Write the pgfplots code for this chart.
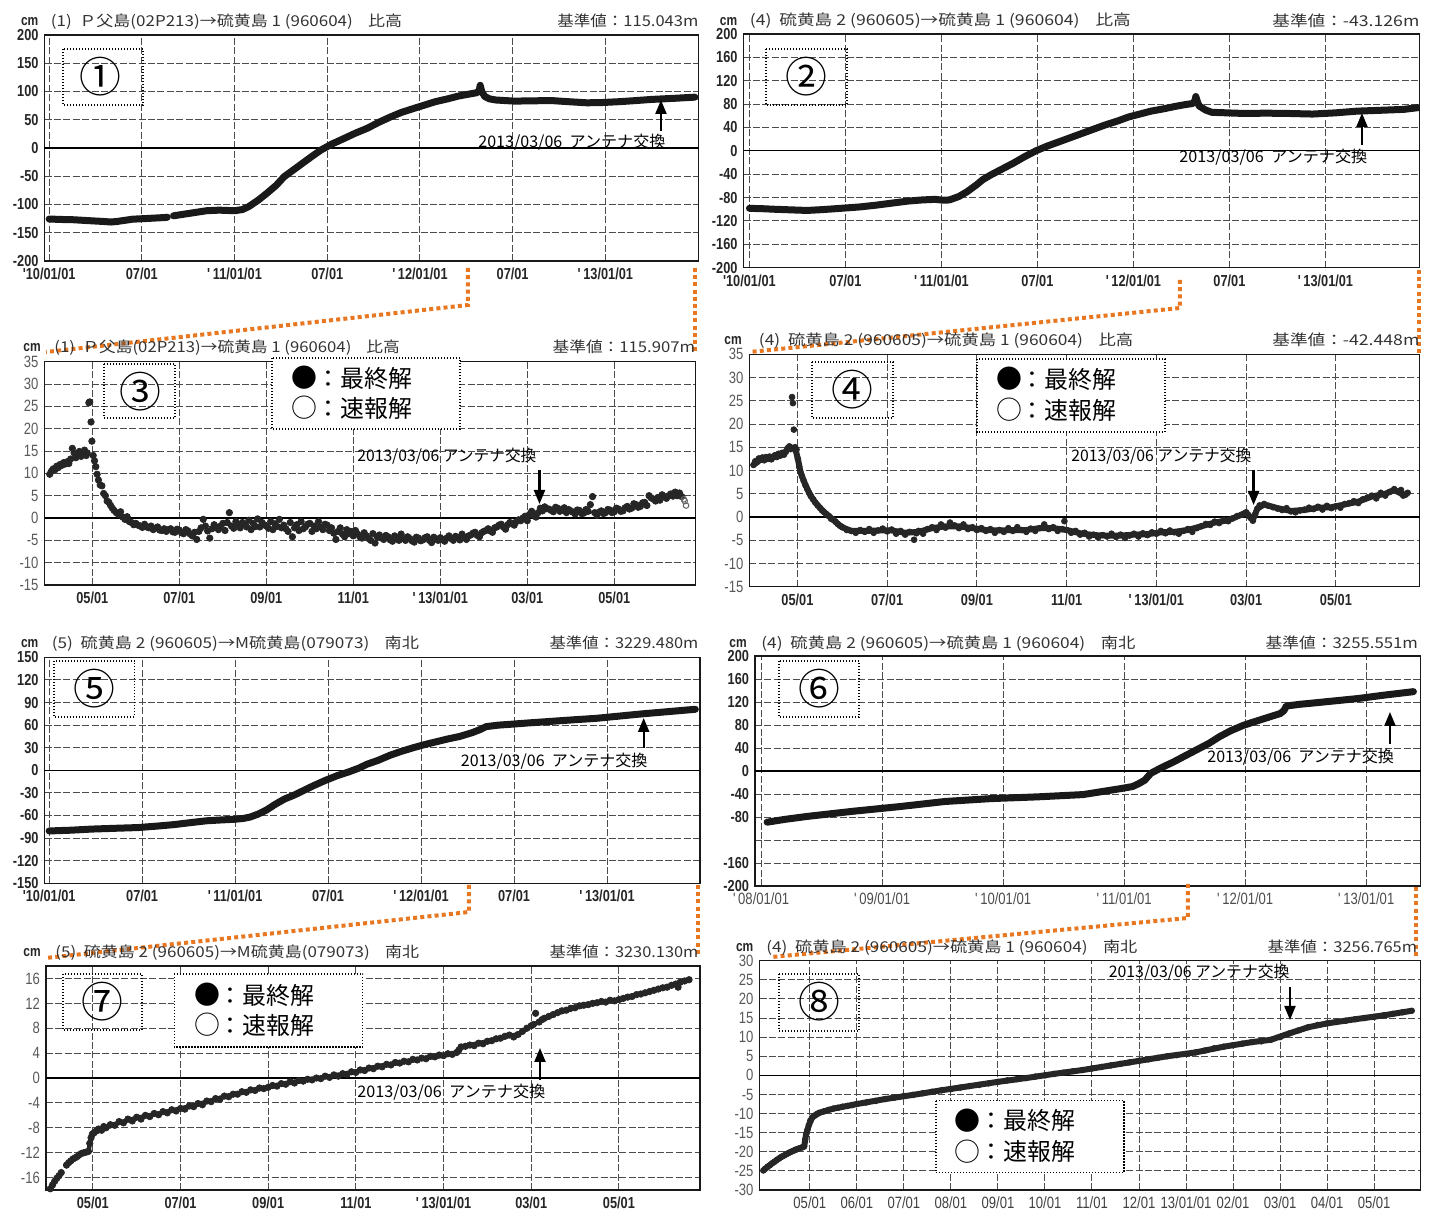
\documentclass[border=0pt]{standalone}
\usepackage{fontspec}
\setmainfont{Liberation Sans}
\newfontfamily\jp{Noto Sans CJK JP}
\newfontfamily\tickfam[FakeStretch=0.8]{Liberation Sans}
\usepackage{graphicx}
\usepackage{pgfplots}
\pgfplotsset{compat=1.18}
\usetikzlibrary{arrows.meta}
\definecolor{org}{RGB}{232,119,34}
\newcommand\tickf{\tickfam\bfseries\fontsize{8}{8}\selectfont}
\newcommand\tickg{\tickfam\fontsize{8.2}{8}\selectfont}
\newcommand\ttf{\jp\fontsize{7.5}{8}\selectfont}
\newcommand\Lft[4]{\node[anchor=base west,inner sep=0,text=black!80] at (#1,#2) {\resizebox{#3bp}{\height}{\ttf #4}};}
\newcommand\Rgt[4]{\node[anchor=base east,inner sep=0,text=black!80] at (#1,#2) {\resizebox{#3bp}{\height}{\ttf #4}};}
\newcommand\Cm[2]{\node[anchor=base west,inner sep=0,text=black!85] at (#1,#2) {\tickfam\bfseries\fontsize{7.5}{8}\selectfont cm};}
\newcommand\Note[4]{\node[anchor=base west,inner sep=0] at (#1,#2) {\resizebox{#3bp}{\height}{\jp\fontsize{8}{9}\selectfont #4}};}
\newcommand\Num[7]{\draw[line width=0.7bp,dash pattern=on 0.6bp off 0.9bp] (#1,#2) rectangle (#3,#4);
  \node[inner sep=0] at (#5,#6) {\jp\fontsize{21}{21}\selectfont #7};}
\newcommand\Leg[8]{\draw[line width=0.7bp,dash pattern=on 0.6bp off 0.9bp,fill=white] (#1,#2) rectangle (#3,#4);
  \node[inner sep=0] at (#5,#6) {\jp\fontsize{13}{13}\selectfont ●};
  \node[inner sep=0] at (#5,#7) {\jp\fontsize{13}{13}\selectfont ○};
  \node[anchor=west,inner sep=0] at (#8,#6) {\jp\fontsize{12}{12}\selectfont ：最終解};
  \node[anchor=west,inner sep=0] at (#8,#7) {\jp\fontsize{12}{12}\selectfont ：速報解};}
\pgfplotsset{
  base/.style={scale only axis, anchor=south west,
    axis line style={black!90, line width=0.6bp},
    grid=major, major grid style={black!70, line width=0.5bp, dash pattern=on 3.5bp off 1.2bp},
    major tick length=0pt,
    yticklabel style={font=\tickf, text=black!85, xshift=0.5bp},
    xticklabel style={font=\tickf, text=black!85},
    extra y ticks={0}, extra y tick labels={},
    extra y tick style={grid=major, major grid style={solid, black, line width=0.6bp}},
  },
  zoomed/.style={base,
    yticklabel style={font=\tickg, text=black!65},
    xticklabel style={font=\tickf, text=black!85},
    xtick={4,6,8,10,12,14,16},
    xticklabels={05/01,07/01,09/01,11/01,'\,13/01/01,03/01,05/01}},
  longx/.style={base,
    xtick={0,6,12,18,24,30,36},
    xticklabels={'10/01/01,07/01,'\,11/01/01,07/01,'\,12/01/01,07/01,'\,13/01/01}},
  thickline/.style={black!90, line width=3.5bp, line join=round, line cap=round},
  dots/.style={only marks, mark=*, mark size=1.45bp, mark options={fill=black!85, draw=black!85}},
}
\begin{document}
\begin{tikzpicture}
\path[use as bounding box] (0,0) rectangle (717.5bp,-604.5bp);
% ---------- Panel 1
\begin{axis}[longx, at={(22.25bp,-130.5bp)}, width=327.15bp, height=113bp,
  xmin=-0.3, xmax=42.05, ymin=-200, ymax=200,
  ytick={-200,-150,-100,-50,0,50,100,150,200},
  yticklabels={-200,-150,-100,-50,0,50,100,150,200}]
\addplot[thickline] coordinates {(0,-125.7) (0.8,-126.5) (1.6,-127) (2.5,-128.5) (3.5,-130) (4.0,-131) (4.4,-130) (5.4,-126) (6.5,-124.5) (7.5,-123) (7.65,-122.5)};
\addplot[thickline] coordinates {(8.05,-120) (9.0,-116) (10.2,-111) (11.0,-110) (12.0,-111) (12.5,-109) (12.9,-104) (13.5,-93) (14.1,-80) (14.7,-66) (15.2,-51) (15.8,-39) (16.4,-27) (17.0,-15) (17.6,-3.5) (18.3,7) (19.1,17) (19.8,26) (20.6,35) (21.3,45) (22.1,55) (22.8,63) (23.6,70) (24.3,76) (25.0,82) (25.8,87) (26.5,92) (27.1,95) (27.7,98) (27.85,103) (27.9,111) (28.0,100) (28.2,91) (28.5,87) (28.9,85) (29.5,84) (30.1,83) (31.3,83.5) (32.5,84) (33.6,82) (34.8,80) (35.8,80.5) (36.9,82) (38.0,84) (39.0,86) (40.5,88) (41.8,90)};
\end{axis}
% ---------- Panel 2
\begin{axis}[longx, at={(371.75bp,-133.85bp)}, width=338.15bp, height=116.85bp,
  xmin=-0.37, xmax=41.9, ymin=-200, ymax=200,
  ytick={-200,-160,-120,-80,-40,0,40,80,120,160,200},
  yticklabels={-200,-160,-120,-80,-40,0,40,80,120,160,200}]
\addplot[thickline] coordinates {(0,-98.4) (0.8,-99) (1.6,-100) (2.6,-101) (3.6,-102) (4.6,-100.5) (5.9,-98) (6.9,-96) (7.9,-93) (8.9,-89.5) (9.9,-86) (10.8,-84) (11.6,-83) (12.1,-84.5) (12.5,-84) (13.1,-78) (13.6,-70) (14.2,-58) (14.6,-49) (15.1,-41) (15.8,-31) (16.5,-21) (17.2,-10) (17.9,0) (18.6,8) (19.4,16) (20.1,23) (20.8,30) (21.5,37) (22.2,44) (23.0,51) (23.7,58) (24.4,63) (25.1,68) (25.9,72) (26.6,76) (27.2,79) (27.7,81) (27.85,86) (27.9,93) (28.0,84) (28.1,77) (28.5,70) (28.9,66) (29.9,65) (30.9,64) (32.3,64.5) (33.7,64) (35.2,63) (36.6,65) (38.0,68) (39.5,69.5) (40.9,71) (41.8,74)};
\end{axis}
% ---------- Panel 3
\begin{axis}[zoomed, at={(22.25bp,-292.5bp)}, width=325.55bp, height=111.65bp,
  xmin=2.9, xmax=17.87, ymin=-15, ymax=35,
  ytick={-15,-10,-5,0,5,10,15,20,25,30,35},
  yticklabels={-15,-10,-5,0,5,10,15,20,25,30,35}]
\addplot[dots, mark size=1.6bp] coordinates {(3.02,9.8) (3.06,10.5) (3.10,11.0) (3.14,10.8) (3.18,11.6) (3.22,11.3) (3.26,12.0) (3.30,11.8) (3.34,12.4) (3.38,12.1) (3.42,12.6) (3.46,12.2) (3.50,13.2) (3.54,15.6) (3.58,14.6) (3.62,13.5) (3.66,14.2) (3.70,14.9) (3.74,13.8) (3.78,14.5) (3.82,15.2) (3.86,14.0) (3.88,14.6) (3.92,25.8) (3.94,26.0) (3.97,21.5) (3.99,17.2) (4.02,14.0) (4.05,12.8) (4.08,11.5) (4.11,9.8) (4.14,8.5) (4.18,7.4) (4.22,7.2) (4.26,5.5) (4.30,5.0) (4.34,3.8) (4.38,3.5) (4.42,2.8) (4.46,2.2) (4.50,1.7) (4.55,1.2) (4.60,0.8) (4.65,1.4) (4.70,0.2) (4.75,-0.3) (4.80,0.3) (4.85,-0.8) (4.90,-1.0) (4.95,-1.5) (5.00,-1.2) (5.05,-1.6) (5.1,-1.8) (5.15,-2.1) (5.2,-1.4) (5.25,-2.0) (5.3,-2.2) (5.35,-1.8) (5.4,-2.6) (5.45,-2.3) (5.5,-2.0) (5.55,-2.7) (5.6,-2.8) (5.65,-2.4) (5.7,-3.0) (5.75,-2.6) (5.8,-2.4) (5.85,-3.1) (5.9,-3.2) (5.95,-2.5) (6.0,-2.7) (6.05,-3.3) (6.1,-3.5) (6.15,-2.6) (6.2,-2.9) (6.25,-3.6) (6.3,-4.0) (6.35,-3.2) (6.4,-4.8) (6.45,-3.0) (6.5,-2.2) (6.55,-0.3) (6.6,-1.8) (6.65,-2.9) (6.7,-4.5) (6.75,-2.4) (6.8,-1.5) (6.85,-2.0) (6.9,-2.6) (6.95,-1.8) (7.0,-1.2) (7.05,-2.8) (7.1,-1.0) (7.15,1.2) (7.2,-1.8) (7.25,-2.3) (7.3,-0.8) (7.35,-1.6) (7.4,-2.2) (7.45,-1.0) (7.5,-1.4) (7.55,-2.0) (7.6,-0.5) (7.65,-2.6) (7.7,-1.2) (7.75,-1.9) (7.8,-0.2) (7.85,-2.0) (7.9,-1.0) (7.95,-1.5) (8.0,-1.8) (8.05,-2.3) (8.1,-0.8) (8.15,-2.6) (8.2,-1.3) (8.25,-1.9) (8.3,-0.3) (8.35,-2.2) (8.4,-1.6) (8.45,-2.4) (8.5,-3.0) (8.55,-1.0) (8.6,-4.2) (8.65,-2.2) (8.7,-1.5) (8.75,-2.8) (8.8,-0.8) (8.85,-2.4) (8.9,-2.0) (8.95,-1.4) (9.0,-1.2) (9.05,-3.0) (9.1,-1.8) (9.15,-2.4) (9.2,-0.8) (9.25,-2.0) (9.3,-2.6) (9.35,-1.4) (9.4,-1.6) (9.45,-2.8) (9.5,-2.2) (9.55,-3.4) (9.6,-4.8) (9.65,-3.0) (9.7,-2.2) (9.75,-3.6) (9.8,-4.2) (9.85,-2.6) (9.9,-3.5) (9.95,-3.0) (10.0,-4.0) (10.05,-2.8) (10.1,-3.6) (10.15,-4.2) (10.2,-4.5) (10.25,-3.3) (10.3,-4.0) (10.35,-4.6) (10.4,-5.0) (10.45,-3.5) (10.5,-5.6) (10.55,-4.2) (10.6,-3.8) (10.65,-4.5) (10.7,-4.8) (10.75,-3.9) (10.8,-4.2) (10.85,-4.9) (10.9,-5.2) (10.95,-4.0) (11.0,-4.4) (11.05,-5.0) (11.1,-3.6) (11.15,-4.6) (11.2,-5.0) (11.25,-4.2) (11.3,-4.6) (11.35,-5.1) (11.4,-5.4) (11.45,-4.3) (11.5,-4.5) (11.55,-5.1) (11.6,-4.9) (11.65,-4.4) (11.7,-4.2) (11.75,-5.0) (11.8,-5.5) (11.85,-4.3) (11.9,-4.7) (11.95,-5.0) (12.0,-4.4) (12.05,-4.8) (12.1,-5.2) (12.15,-4.5) (12.2,-4.0) (12.25,-4.6) (12.3,-5.0) (12.35,-4.1) (12.4,-4.4) (12.45,-4.9) (12.5,-3.6) (12.55,-4.3) (12.6,-4.8) (12.65,-4.0) (12.7,-3.8) (12.75,-3.4) (12.8,-3.2) (12.85,-3.9) (12.9,-4.2) (12.95,-3.3) (13.0,-3.0) (13.05,-2.8) (13.1,-2.4) (13.15,-2.9) (13.2,-3.2) (13.25,-2.2) (13.3,-2.0) (13.35,-1.6) (13.4,-1.4) (13.45,-2.0) (13.5,-2.5) (13.55,-1.5) (13.6,-1.0) (13.65,-1.2) (13.7,-1.6) (13.75,-0.8) (13.8,-0.4) (13.85,-0.6) (13.9,0.0) (13.95,0.4) (14.0,-0.6) (14.05,0.8) (14.1,1.5) (14.15,0.6) (14.2,0.2) (14.25,1.2) (14.3,2.2) (14.35,1.6) (14.4,2.5) (14.45,2.1) (14.5,2.0) (14.55,1.7) (14.6,1.4) (14.65,2.4) (14.7,2.2) (14.75,1.5) (14.8,1.8) (14.85,2.3) (14.9,1.2) (14.95,1.9) (15.0,1.6) (15.05,1.3) (15.1,0.9) (15.15,1.8) (15.2,1.7) (15.25,1.0) (15.3,1.1) (15.35,1.9) (15.4,1.5) (15.45,3.0) (15.5,4.8) (15.55,1.2) (15.6,0.6) (15.65,1.3) (15.7,1.6) (15.75,1.0) (15.8,1.2) (15.85,1.9) (15.9,1.8) (15.95,1.2) (16.0,1.4) (16.05,2.2) (16.1,2.0) (16.15,1.5) (16.2,1.6) (16.25,2.3) (16.3,2.6) (16.35,2.0) (16.4,2.2) (16.45,3.2) (16.5,3.0) (16.55,2.4) (16.6,2.6) (16.65,3.4) (16.7,3.5) (16.75,2.8) (16.8,5.0) (16.85,4.5) (16.9,4.2) (16.95,3.8) (17.0,4.6) (17.05,4.0) (17.1,5.2) (17.15,4.8) (17.2,4.4) (17.25,5.0) (17.3,5.4) (17.35,4.9) (17.4,5.8) (17.45,5.0) (17.5,5.6) (17.55,4.8)};
\addplot[only marks, mark=o, mark size=1.4bp, mark options={draw=black!60, line width=0.5bp}] coordinates {(17.6,4.2) (17.62,3.8) (17.65,2.8)};
\end{axis}
% ---------- Panel 4
\begin{axis}[zoomed, at={(374.7bp,-293.35bp)}, width=335.2bp, height=116.2bp,
  xmin=2.93, xmax=17.87, ymin=-15, ymax=35,
  ytick={-15,-10,-5,0,5,10,15,20,25,30,35},
  yticklabels={-15,-10,-5,0,5,10,15,20,25,30,35}]
\addplot[black!85, line width=3bp, line join=round] coordinates {(3.02,11.2) (3.10,11.8) (3.20,12.5) (3.30,12.7) (3.40,12.7) (3.50,13.1) (3.60,13.4) (3.70,13.6) (3.78,14.6) (3.84,15.0) (3.95,14.8) (4.01,12.5) (4.07,9.6) (4.14,7.8) (4.22,6.0) (4.30,4.5) (4.40,3.1) (4.50,2.0) (4.60,1.0) (4.70,0.2) (4.80,-0.6) (4.90,-1.5) (5.0,-2.2) (5.2,-3.0) (5.5,-3.0) (5.8,-2.9) (6.1,-2.9) (6.4,-3.4) (6.7,-3.2) (7.0,-2.4) (7.3,-2.0) (7.6,-2.0) (7.9,-2.4) (8.2,-2.8) (8.5,-2.9) (8.8,-2.8) (9.1,-2.8) (9.4,-2.4) (9.7,-2.4) (10.0,-2.8) (10.3,-3.5) (10.6,-3.9) (10.9,-4.0) (11.2,-4.0) (11.5,-3.8) (11.8,-3.7) (12.1,-3.3) (12.4,-3.2) (12.7,-2.8) (13.0,-2.0) (13.3,-1.2) (13.6,-0.7) (13.9,0.5) (14.0,1.0) (14.1,-0.2) (14.15,-0.6) (14.25,1.8) (14.4,2.7) (14.7,1.9) (15.0,1.3) (15.3,1.5) (15.6,2.0) (15.9,2.1) (16.2,2.7) (16.5,3.3) (16.8,4.4) (17.1,5.0) (17.3,5.8) (17.5,4.8) (17.6,5.0)};
\addplot[dots] coordinates {(3.02,11.2) (3.06,12.0) (3.10,11.8) (3.14,12.6) (3.18,12.3) (3.22,12.8) (3.26,12.2) (3.30,12.9) (3.34,12.5) (3.38,13.0) (3.42,12.4) (3.46,12.8) (3.50,13.3) (3.54,12.9) (3.58,13.6) (3.62,13.2) (3.66,13.8) (3.70,13.4) (3.74,14.0) (3.78,14.8) (3.82,15.2) (3.85,14.6) (3.88,25.8) (3.90,24.5) (3.92,18.8) (3.95,15.0) (3.98,14.5) (4.01,12.5) (4.04,10.8) (4.07,9.6) (4.10,8.8) (4.14,7.8) (4.18,6.8) (4.22,6.0) (4.26,5.2) (4.30,4.5) (4.35,3.8) (4.40,3.1) (4.45,2.5) (4.50,2.0) (4.55,1.4) (4.60,1.0) (4.65,0.6) (4.70,0.2) (4.75,-0.4) (4.80,-0.6) (4.85,-1.0) (4.90,-1.5) (4.95,-1.9) (5.0,-2.2) (5.1,-2.8) (5.2,-3.0) (5.3,-3.4) (5.4,-2.8) (5.5,-3.2) (5.6,-2.6) (5.7,-3.4) (5.8,-2.9) (5.9,-2.5) (6.0,-3.1) (6.1,-2.7) (6.2,-3.6) (6.3,-3.0) (6.4,-3.8) (6.5,-3.2) (6.6,-4.9) (6.65,-3.5) (6.7,-3.0) (6.8,-3.6) (6.9,-2.6) (7.0,-2.2) (7.1,-2.8) (7.2,-1.6) (7.3,-2.3) (7.4,-1.2) (7.5,-1.8) (7.6,-2.4) (7.7,-1.6) (7.8,-2.6) (7.9,-2.2) (8.0,-2.8) (8.1,-2.4) (8.2,-3.0) (8.3,-2.6) (8.4,-3.4) (8.5,-2.8) (8.6,-3.2) (8.7,-2.4) (8.8,-3.0) (8.9,-2.2) (9.0,-2.8) (9.1,-3.2) (9.2,-2.5) (9.3,-3.0) (9.4,-2.4) (9.5,-1.6) (9.6,-2.6) (9.7,-2.2) (9.8,-3.0) (9.9,-2.6) (9.95,-0.9) (10.0,-2.8) (10.1,-3.4) (10.2,-3.0) (10.3,-3.8) (10.4,-3.4) (10.5,-4.2) (10.6,-3.8) (10.7,-4.4) (10.8,-3.9) (10.9,-4.2) (11.0,-3.6) (11.1,-4.3) (11.2,-3.8) (11.3,-4.5) (11.4,-4.0) (11.5,-3.6) (11.6,-4.2) (11.7,-3.5) (11.8,-3.9) (11.9,-3.3) (12.0,-3.6) (12.1,-3.0) (12.2,-3.5) (12.3,-2.9) (12.4,-3.3) (12.5,-3.6) (12.6,-3.0) (12.7,-2.6) (12.8,-3.2) (12.9,-2.4) (13.0,-2.0) (13.1,-1.5) (13.2,-1.7) (13.3,-1.0) (13.4,-1.3) (13.5,-0.6) (13.6,-0.9) (13.7,-0.3) (13.8,0.2) (13.9,0.5) (14.0,1.0) (14.05,0.4) (14.1,-0.2) (14.15,-0.8) (14.2,0.5) (14.25,1.8) (14.3,2.5) (14.4,2.8) (14.5,2.4) (14.6,2.1) (14.7,1.8) (14.8,1.5) (14.9,1.9) (15.0,1.2) (15.1,1.0) (15.2,1.4) (15.3,1.6) (15.4,2.0) (15.5,1.7) (15.6,2.2) (15.7,1.6) (15.8,2.4) (15.9,1.9) (16.0,2.3) (16.1,2.0) (16.2,2.8) (16.3,3.0) (16.4,3.4) (16.5,3.0) (16.6,3.8) (16.7,4.2) (16.8,4.6) (16.9,4.0) (17.0,5.2) (17.1,4.6) (17.2,5.4) (17.3,6.0) (17.4,5.5) (17.45,5.8) (17.5,4.6) (17.55,4.8) (17.6,5.2)};
\end{axis}
% ---------- Panel 5
\begin{axis}[longx, at={(22.25bp,-441.65bp)}, width=327.75bp, height=113bp,
  xmin=-0.3, xmax=42.0, ymin=-150, ymax=150,
  ytick={-150,-120,-90,-60,-30,0,30,60,90,120,150},
  yticklabels={-150,-120,-90,-60,-30,0,30,60,90,120,150}]
\addplot[thickline] coordinates {(0,-80.5) (1.4,-79.5) (2.76,-78) (4.2,-77) (5.72,-76) (7.0,-74) (8.09,-72) (9.1,-69.5) (10.16,-67) (11.0,-66) (11.94,-65) (12.5,-64) (12.98,-62) (13.5,-58) (14.0,-53) (14.6,-45) (15.2,-38) (15.8,-33) (16.4,-27) (17.1,-20) (17.87,-13) (18.6,-7) (19.35,-2) (20.0,3) (20.5,8) (21.2,13) (22.0,20) (22.7,25) (23.5,30) (24.2,34) (25.0,38) (25.7,41.5) (26.5,45) (27.3,50) (27.8,54) (28.2,58) (29.0,60) (29.7,61) (31.0,63) (32.4,65) (33.8,67) (35.3,69) (36.8,72) (38.3,75) (40.0,78) (41.7,81)};
\end{axis}
% ---------- Panel 6
\begin{axis}[base, at={(377.5bp,-443bp)}, width=332.85bp, height=115bp,
  xmin=-0.05, xmax=5.45, ymin=-200, ymax=200,
  xtick={0,1,2,3,4,5},
  xticklabels={'\,08/01/01,'\,09/01/01,'\,10/01/01,'\,11/01/01,'\,12/01/01,'\,13/01/01},
  xticklabel style={font=\tickg, text=black!70},
  ytick={-200,-160,-120,-80,-40,0,40,80,120,160,200},
  yticklabels={-200,-160,,-80,-40,0,40,80,120,160,200}]
\addplot[thickline] coordinates {(0.05,-89) (0.2,-84) (0.38,-79) (0.57,-74.5) (0.76,-70) (0.95,-66) (1.14,-62) (1.33,-57.5) (1.52,-53) (1.71,-50.5) (1.9,-48) (2.09,-46.5) (2.28,-45) (2.47,-43) (2.66,-41) (2.81,-36) (2.96,-31) (3.07,-27) (3.12,-22) (3.17,-16) (3.22,-4) (3.31,6) (3.41,16) (3.5,26) (3.6,37) (3.7,48) (3.79,60) (3.88,70) (3.98,79) (4.08,86) (4.17,92) (4.29,100) (4.32,105) (4.34,113) (4.45,116) (4.55,118) (4.74,122) (4.93,126) (5.15,132) (5.39,138)};
\end{axis}
% ---------- Panel 7
\begin{axis}[zoomed, at={(22.95bp,-595bp)}, width=327.05bp, height=112bp,
  xmin=2.93, xmax=17.85, ymin=-18, ymax=18,
  ytick={-16,-12,-8,-4,0,4,8,12,16},
  yticklabels={-16,-12,-8,-4,0,4,8,12,16}]
\addplot[black!85, line width=2.2bp] coordinates {(3.03,-17.8) (3.13,-16.6) (3.28,-15.2)};
\addplot[black!85, line width=2.2bp] coordinates {(3.40,-14.0) (3.60,-12.8) (3.80,-12.0) (3.90,-11.8) (3.96,-9.6) (4.03,-8.8) (4.3,-8.0) (4.6,-7.2) (5.0,-6.4) (5.5,-5.7) (6.0,-4.9) (6.5,-4.0) (7.0,-3.0) (7.5,-2.2) (8.0,-1.5) (8.5,-0.7) (9.0,-0.2) (9.5,0.4) (10.0,1.0) (10.5,1.9) (11.0,2.5) (11.5,3.1) (12.0,3.6) (12.3,4.1) (12.4,5.0) (13.0,5.9) (13.5,6.8) (13.7,7.0) (14.05,8.6) (14.18,9.0) (14.5,10.2) (15.0,11.3) (15.5,12.1) (16.0,12.6) (16.5,13.5) (17.0,14.5) (17.5,15.6) (17.6,15.8)};
\addplot[dots, mark size=1.6bp] coordinates {(3.03,-17.8) (3.08,-17.2) (3.13,-16.6) (3.18,-16.1) (3.23,-15.7) (3.28,-15.2) (3.40,-14.0) (3.45,-13.6) (3.50,-13.3) (3.55,-13.0) (3.60,-12.8) (3.65,-12.6) (3.70,-12.3) (3.75,-12.1) (3.80,-12.0) (3.85,-11.9) (3.90,-11.8) (3.93,-10.5) (3.96,-9.6) (3.99,-9.0) (4.03,-8.8) (4.08,-8.5) (4.13,-8.2) (4.2,-8.4) (4.25,-7.8) (4.3,-8.0) (4.4,-7.5) (4.5,-7.6) (4.6,-7.0) (4.7,-7.2) (4.8,-6.6) (4.9,-6.9) (5.0,-6.3) (5.1,-6.6) (5.2,-6.0) (5.3,-6.2) (5.4,-5.7) (5.5,-5.9) (5.6,-5.4) (5.7,-5.6) (5.8,-5.1) (5.9,-5.3) (6.0,-4.9) (6.1,-5.0) (6.2,-4.5) (6.3,-4.6) (6.4,-4.1) (6.5,-4.3) (6.6,-3.7) (6.7,-3.8) (6.8,-3.3) (6.9,-3.4) (7.0,-2.9) (7.1,-3.0) (7.2,-2.6) (7.3,-2.6) (7.4,-2.2) (7.5,-2.3) (7.6,-1.9) (7.7,-2.0) (7.8,-1.6) (7.9,-1.7) (8.0,-1.5) (8.1,-1.2) (8.2,-1.3) (8.3,-0.9) (8.4,-1.0) (8.5,-0.6) (8.6,-0.8) (8.7,-0.4) (8.8,-0.5) (8.9,-0.2) (9.0,-0.3) (9.1,0.0) (9.2,-0.1) (9.3,0.3) (9.4,0.1) (9.5,0.5) (9.6,0.3) (9.7,0.7) (9.8,0.6) (9.9,1.0) (10.0,0.9) (10.1,1.3) (10.2,1.2) (10.3,1.6) (10.4,1.5) (10.5,1.9) (10.6,1.8) (10.7,2.2) (10.8,2.1) (10.9,2.5) (11.0,2.4) (11.1,2.7) (11.2,2.6) (11.3,3.0) (11.4,2.9) (11.5,3.2) (11.6,3.1) (11.7,3.5) (11.8,3.4) (11.9,3.7) (12.0,3.6) (12.1,3.9) (12.2,3.8) (12.3,4.1) (12.35,4.5) (12.4,5.0) (12.5,5.1) (12.6,5.3) (12.7,5.2) (12.8,5.6) (12.9,5.5) (13.0,5.9) (13.1,6.0) (13.2,6.3) (13.3,6.4) (13.4,6.7) (13.5,6.9) (13.6,6.6) (13.7,7.0) (13.8,7.5) (13.9,8.0) (14.0,8.4) (14.05,8.6) (14.1,10.4) (14.18,9.0) (14.25,9.4) (14.3,9.6) (14.4,9.9) (14.5,10.2) (14.6,10.5) (14.7,10.8) (14.8,10.9) (14.9,11.2) (15.0,11.3) (15.1,11.6) (15.2,11.7) (15.3,11.8) (15.4,12.0) (15.5,12.1) (15.6,12.3) (15.7,12.2) (15.8,12.5) (15.9,12.4) (16.0,12.6) (16.1,12.8) (16.2,13.0) (16.3,13.1) (16.4,13.4) (16.5,13.5) (16.6,13.7) (16.7,13.9) (16.8,14.1) (16.9,14.3) (17.0,14.5) (17.1,14.6) (17.2,14.9) (17.3,15.1) (17.35,14.6) (17.4,15.4) (17.5,15.6) (17.6,15.8)};
\end{axis}
% ---------- Panel 8
\begin{axis}[base, at={(379.75bp,-595bp)}, width=330.6bp, height=114.65bp,
  xmin=2.93, xmax=16.99, ymin=-30, ymax=30,
  yticklabel style={font=\tickg, text=black!65},
  xtick={4,5,6,7,8,9,10,11,12,13,14,15,16},
  xticklabels={05/01,06/01,07/01,08/01,09/01,10/01,11/01,12/01,13/01/01,02/01,03/01,04/01,05/01},
  xticklabel style={font=\tickg, text=black!75},
  ytick={-30,-25,-20,-15,-10,-5,0,5,10,15,20,25,30},
  yticklabels={-30,-25,-20,-15,-10,-5,0,5,10,15,20,25,30}]
\addplot[black!85, line width=3bp, line join=round] coordinates {(3.01,-24.9) (3.20,-23.0) (3.40,-21.3) (3.60,-20.0) (3.80,-19.0) (3.88,-18.6) (3.92,-15.5) (3.98,-13.0) (4.05,-11.0) (4.2,-9.8) (4.5,-8.7) (5.0,-7.5) (5.6,-6.2) (6.2,-5.1) (6.8,-3.9) (7.4,-2.8) (8.0,-1.7) (8.6,-0.7) (9.2,0.4) (9.8,1.4) (10.4,2.6) (11.0,3.8) (11.6,5.0) (12.2,6.0) (12.8,7.5) (13.4,8.7) (13.8,9.3) (14.2,11.0) (14.6,12.6) (15.0,13.6) (15.6,14.7) (16.2,15.7) (16.8,16.9)};
\addplot[dots, mark size=1.4bp] coordinates {(3.01,-24.9) (3.05,-24.4) (3.10,-23.9) (3.15,-23.5) (3.20,-23.0) (3.25,-22.6) (3.30,-22.1) (3.35,-21.7) (3.40,-21.3) (3.45,-21.0) (3.50,-20.6) (3.55,-20.3) (3.60,-20.0) (3.65,-19.7) (3.70,-19.4) (3.75,-19.2) (3.80,-19.0) (3.85,-18.8) (3.88,-18.6) (3.90,-16.8) (3.92,-15.5) (3.95,-14.2) (3.98,-13.0) (4.01,-11.8) (4.05,-11.0) (4.10,-10.5) (4.15,-10.1) (4.2,-9.8) (4.3,-9.4) (4.4,-9.0) (4.5,-8.7) (4.6,-8.5) (4.7,-8.2) (4.8,-8.0) (4.9,-7.8) (5.0,-7.5) (5.2,-7.1) (5.4,-6.7) (5.6,-6.2) (5.8,-5.8) (6.0,-5.4) (6.2,-5.1) (6.4,-4.7) (6.6,-4.3) (6.8,-3.9) (7.0,-3.6) (7.2,-3.2) (7.4,-2.8) (7.6,-2.5) (7.8,-2.1) (8.0,-1.7) (8.2,-1.3) (8.4,-1.0) (8.6,-0.7) (8.8,-0.3) (9.0,0.0) (9.2,0.4) (9.4,0.7) (9.6,1.1) (9.8,1.4) (10.0,1.8) (10.2,2.2) (10.4,2.6) (10.6,3.0) (10.8,3.4) (11.0,3.8) (11.2,4.2) (11.4,4.6) (11.6,5.0) (11.8,5.3) (12.0,5.6) (12.2,6.0) (12.4,6.5) (12.6,7.1) (12.8,7.5) (13.0,7.9) (13.2,8.3) (13.4,8.7) (13.6,8.9) (13.8,9.3) (14.0,10.0) (14.2,11.0) (14.4,11.8) (14.6,12.6) (14.8,13.2) (15.0,13.6) (15.2,14.0) (15.4,14.3) (15.6,14.7) (15.8,15.0) (16.0,15.3) (16.2,15.7) (16.4,16.1) (16.6,16.5) (16.8,16.9)};
\end{axis}
% ---------- overlay in pixel units
\begin{scope}[x=0.5bp,y=-0.5bp]
\begin{scope}[draw=org, line width=2bp, dash pattern=on 2bp off 1.6bp]
\draw (468,268) -- (468,305) -- (46,352);
\draw (695,268) -- (695,352);
\draw (1180,280) -- (1180,308) -- (750,352);
\draw (1419,270) -- (1419,354);
\draw (469,885) -- (469,912) -- (46,958);
\draw (698,885) -- (698,955);
\draw (1188,884) -- (1188,918) -- (772,957);
\draw (1416,887) -- (1416,956);
\end{scope}
\Cm{20.7}{25.5}\Lft{50.5}{26.5}{175.6}{(1)\ \ Ｐ父島(02P213)→硫黄島 1 (960604)\ \ \ \ 比高}\Rgt{698.8}{26.5}{70.5}{基準値：115.043m}
\Cm{719.6}{25}\Lft{749.4}{26}{190.5}{(4)\ \ 硫黄島 2 (960605)→硫黄島 1 (960604)\ \ \ \ 比高}\Rgt{1419.8}{26}{73.5}{基準値：-43.126m}
\Cm{23}{352}\Lft{54}{353}{172.7}{(1)\ \ Ｐ父島(02P213)→硫黄島 1 (960604)\ \ \ \ 比高}\Rgt{695.6}{353}{71.3}{基準値：115.907m}
\Cm{724}{345}\Lft{758.6}{346}{187.1}{(4)\ \ 硫黄島 2 (960605)→硫黄島 1 (960604)\ \ \ \ 比高}\Rgt{1419.8}{346}{73.5}{基準値：-42.448m}
\Cm{20.7}{648}\Lft{51.4}{649}{183.6}{(5)\ \ 硫黄島 2 (960605)→M硫黄島(079073)\ \ \ \ 南北}\Rgt{698.8}{649}{74.4}{基準値：3229.480m}
\Cm{729}{648}\Lft{761}{649}{187}{(4)\ \ 硫黄島 2 (960605)→硫黄島 1 (960604)\ \ \ \ 南北}\Rgt{1418.4}{649}{76.2}{基準値：3255.551m}
\Cm{23}{957}\Lft{55}{958}{181.8}{(5)\ \ 硫黄島 2 (960605)→M硫黄島(079073)\ \ \ \ 南北}\Rgt{698.8}{958}{74.4}{基準値：3230.130m}
\Cm{735.7}{952}\Lft{766}{953}{185.5}{(4)\ \ 硫黄島 2 (960605)→硫黄島 1 (960604)\ \ \ \ 南北}\Rgt{1417.5}{953}{74.7}{基準値：3256.765m}
\Num{63}{49}{143}{105}{100}{77}{①}
\Num{766}{49}{847}{105}{806}{77}{②}
\Num{104}{364}{175}{418}{140}{392}{③}
\Num{812}{362}{893}{418}{852}{390}{④}
\Num{54}{661}{134.5}{717}{94}{689}{⑤}
\Num{779}{661}{859}{717}{819}{689}{⑥}
\Num{63}{974}{142}{1030}{102}{1002}{⑦}
\Num{779}{974}{859}{1031}{819}{1002}{⑧}
\Leg{272}{358}{460}{429}{304}{378}{408}{316}
\Leg{977}{359}{1165}{432}{1009}{379}{410}{1020}
\Leg{174.5}{974}{362.7}{1047}{207.5}{995}{1025}{218}
\Leg{936}{1100.7}{1124}{1172.7}{967.5}{1120.7}{1151.7}{979}
\begin{scope}[line width=1.1bp, -{Triangle[length=7bp,width=5.5bp]}]
\draw (661,131) -- (661,100);
\draw (1362,145) -- (1362,113);
\draw (539.5,470) -- (539.5,504);
\draw (1253.6,470) -- (1253.6,505);
\draw (643.7,748) -- (643.7,718);
\draw (1390,744) -- (1390,712);
\draw (540,1080) -- (540,1048);
\draw (1290,987) -- (1290,1020);
\end{scope}
\Note{478}{148}{93.5}{2013/03/06\ \ アンテナ交換}
\Note{1179}{162.5}{94}{2013/03/06\ \ アンテナ交換}
\Note{357}{461.5}{89.5}{2013/03/06 アンテナ交換}
\Note{1071}{461.5}{90}{2013/03/06 アンテナ交換}
\Note{460.5}{766.5}{93.3}{2013/03/06\ \ アンテナ交換}
\Note{1207}{762.5}{93.3}{2013/03/06\ \ アンテナ交換}
\Note{357}{1098}{94}{2013/03/06\ \ アンテナ交換}
\Note{1108.5}{977.5}{90.3}{2013/03/06 アンテナ交換}
\end{scope}
\end{tikzpicture}
\end{document}
